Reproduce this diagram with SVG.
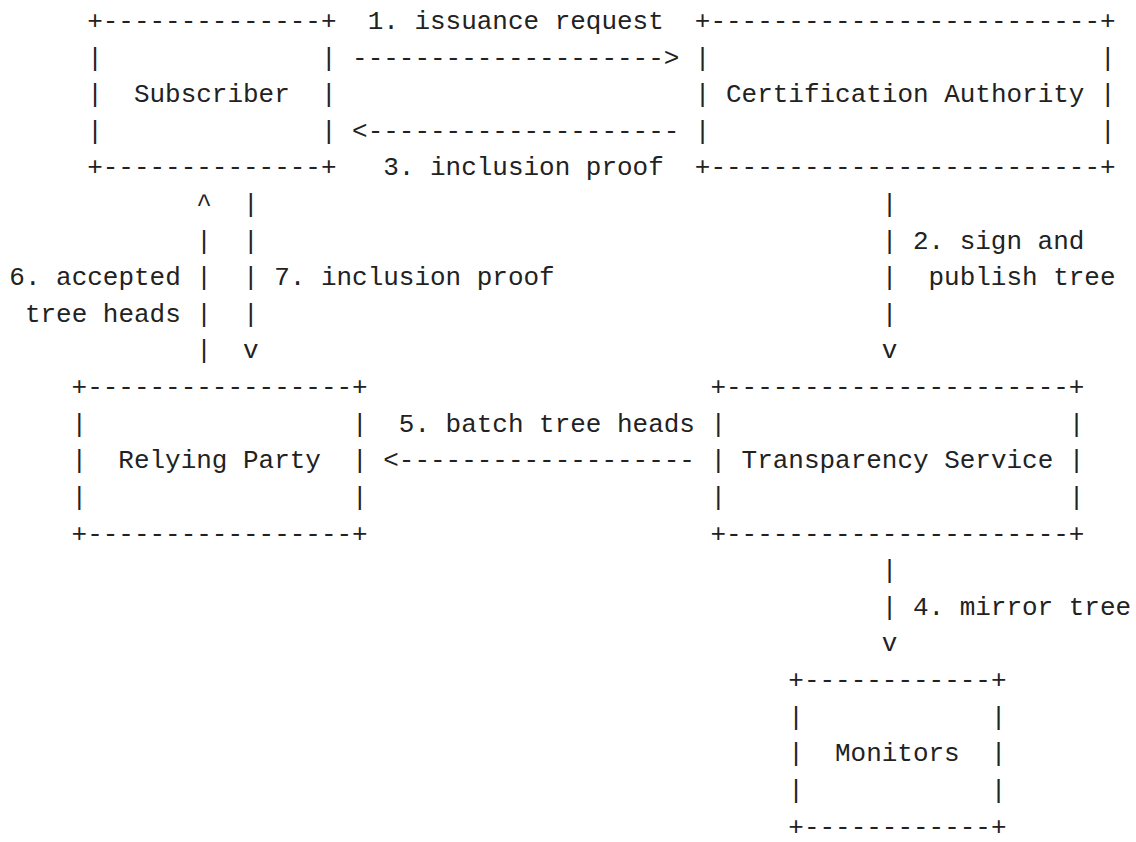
<svg xmlns="http://www.w3.org/2000/svg" width="1136" height="842" viewBox="0 0 1136 842">
<style>
.t { font-family: "Liberation Mono", "DejaVu Sans Mono", monospace; font-size: 25.97px; fill: #222; }
</style>
<rect width="1136" height="842" fill="#ffffff"/>
<g id="subscriber" class="t">
<text x="87.2" y="28.9">+--------------+</text>
<text x="87.2" y="65.52">|</text><text x="320.9" y="65.52">|</text>
<text x="87.2" y="102.14">|</text><text x="133.94" y="102.14">Subscriber</text><text x="320.9" y="102.14">|</text>
<text x="87.2" y="138.76">|</text><text x="320.9" y="138.76">|</text>
<text x="87.2" y="175.38">+--------------+</text>
</g>
<g id="certification-authority" class="t">
<text x="694.82" y="28.9">+-------------------------+</text>
<text x="694.82" y="65.52">|</text><text x="1099.9" y="65.52">|</text>
<text x="694.82" y="102.14">|</text><text x="725.98" y="102.14">Certification Authority</text><text x="1099.9" y="102.14">|</text>
<text x="694.82" y="138.76">|</text><text x="1099.9" y="138.76">|</text>
<text x="694.82" y="175.38">+-------------------------+</text>
</g>
<g id="relying-party" class="t">
<text x="71.62" y="395.1">+-----------------+</text>
<text x="71.62" y="431.72">|</text><text x="352.06" y="431.72">|</text>
<text x="71.62" y="468.34">|</text><text x="118.36" y="468.34">Relying Party</text><text x="352.06" y="468.34">|</text>
<text x="71.62" y="504.96">|</text><text x="352.06" y="504.96">|</text>
<text x="71.62" y="541.58">+-----------------+</text>
</g>
<g id="transparency-service" class="t">
<text x="710.4" y="395.1">+----------------------+</text>
<text x="710.4" y="431.72">|</text><text x="1068.74" y="431.72">|</text>
<text x="710.4" y="468.34">|</text><text x="741.56" y="468.34">Transparency Service</text><text x="1068.74" y="468.34">|</text>
<text x="710.4" y="504.96">|</text><text x="1068.74" y="504.96">|</text>
<text x="710.4" y="541.58">+----------------------+</text>
</g>
<g id="monitors" class="t">
<text x="788.3" y="688.06">+------------+</text>
<text x="788.3" y="724.68">|</text><text x="990.84" y="724.68">|</text>
<text x="788.3" y="761.3">|</text><text x="835.04" y="761.3">Monitors</text><text x="990.84" y="761.3">|</text>
<text x="788.3" y="797.92">|</text><text x="990.84" y="797.92">|</text>
<text x="788.3" y="834.54">+------------+</text>
</g>
<g id="connectors" class="t">
<text x="367.64" y="28.9">1. issuance request</text>
<text x="352.06" y="65.52">--------------------&gt;</text>
<text x="352.06" y="138.76">&lt;--------------------</text>
<text x="383.22" y="175.38">3. inclusion proof</text>
<text x="881.78" y="212">|</text>
<text x="881.78" y="248.62">|</text><text x="912.94" y="248.62">2. sign and</text>
<text x="881.78" y="285.24">|</text><text x="928.52" y="285.24">publish tree</text>
<text x="881.78" y="321.86">|</text>
<text x="881.78" y="358.48">v</text>
<text x="196.26" y="212">^</text><text x="243" y="212">|</text>
<text x="196.26" y="248.62">|</text><text x="243" y="248.62">|</text>
<text x="9.3" y="285.24">6. accepted</text><text x="196.26" y="285.24">|</text><text x="243" y="285.24">|</text><text x="274.16" y="285.24">7. inclusion proof</text>
<text x="24.88" y="321.86">tree heads</text><text x="196.26" y="321.86">|</text><text x="243" y="321.86">|</text>
<text x="196.26" y="358.48">|</text><text x="243" y="358.48">v</text>
<text x="398.8" y="431.72">5. batch tree heads</text>
<text x="383.22" y="468.34">&lt;-------------------</text>
<text x="881.78" y="578.2">|</text>
<text x="881.78" y="614.82">|</text><text x="912.94" y="614.82">4. mirror tree</text>
<text x="881.78" y="651.44">v</text>
</g>
</svg>
